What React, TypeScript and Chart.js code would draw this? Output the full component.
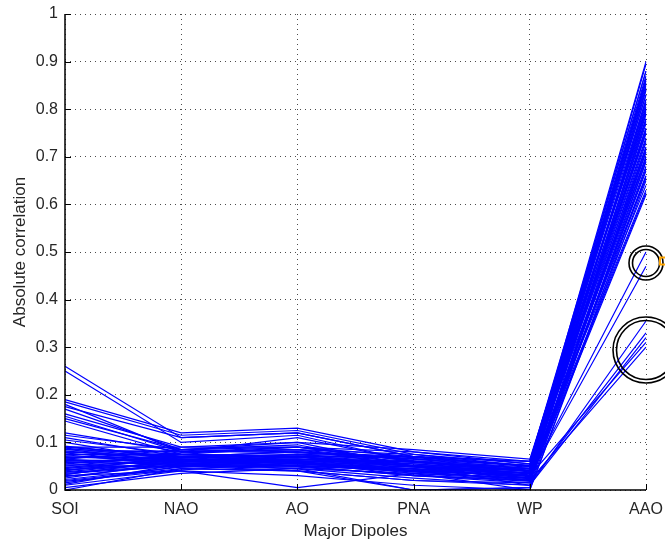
import React, { useEffect, useRef } from "react";
import { Chart, registerables } from "chart.js";

Chart.register(...registerables);

const categories = ["SOI", "NAO", "AO", "PNA", "WP", "AAO"];
const yTickStep = 0.1;

// one entry per series (line), one array per dipole axis
const soi = [0.26, 0.25, 0.19, 0.185, 0.18, 0.175, 0.17, 0.16, 0.155, 0.15, 0.145, 0.12, 0.115, 0.11, 0.105, 0.1, 0.09, 0.088, 0.085, 0.082, 0.08, 0.078, 0.075, 0.072, 0.07, 0.068, 0.065, 0.062, 0.06, 0.058, 0.055, 0.052, 0.05, 0.048, 0.045, 0.042, 0.04, 0.038, 0.035, 0.032, 0.03, 0.028, 0.025, 0.02, 0.015, 0.01, 0.005, 0.0, 0.065, 0.09, 0.092, 0.086, 0.079, 0.074, 0.067, 0.063, 0.057, 0.053, 0.047, 0.043, 0.037, 0.033, 0.022, 0.018, 0.012];
const nao = [0.11, 0.1, 0.12, 0.115, 0.08, 0.11, 0.085, 0.09, 0.08, 0.085, 0.075, 0.08, 0.085, 0.07, 0.075, 0.06, 0.07, 0.065, 0.08, 0.06, 0.07, 0.055, 0.075, 0.065, 0.06, 0.07, 0.05, 0.06, 0.065, 0.055, 0.07, 0.06, 0.075, 0.05, 0.065, 0.055, 0.07, 0.06, 0.05, 0.065, 0.04, 0.055, 0.06, 0.045, 0.05, 0.04, 0.035, 0.045, 0.085, 0.09, 0.068, 0.058, 0.082, 0.052, 0.078, 0.062, 0.072, 0.048, 0.068, 0.058, 0.052, 0.062, 0.048, 0.042, 0.055];
const ao = [0.12, 0.115, 0.13, 0.125, 0.11, 0.12, 0.1, 0.09, 0.085, 0.08, 0.07, 0.09, 0.095, 0.08, 0.07, 0.075, 0.065, 0.06, 0.085, 0.05, 0.07, 0.06, 0.09, 0.055, 0.065, 0.075, 0.045, 0.07, 0.055, 0.06, 0.08, 0.05, 0.07, 0.04, 0.065, 0.05, 0.06, 0.075, 0.055, 0.06, 0.005, 0.045, 0.065, 0.04, 0.05, 0.03, 0.045, 0.04, 0.09, 0.1, 0.072, 0.062, 0.078, 0.058, 0.085, 0.052, 0.068, 0.062, 0.058, 0.072, 0.048, 0.056, 0.052, 0.058, 0.062];
const pna = [0.07, 0.06, 0.08, 0.075, 0.06, 0.07, 0.05, 0.06, 0.05, 0.07, 0.04, 0.06, 0.05, 0.065, 0.05, 0.07, 0.06, 0.04, 0.075, 0.03, 0.05, 0.06, 0.08, 0.04, 0.05, 0.06, 0.035, 0.07, 0.045, 0.03, 0.065, 0.04, 0.055, 0.02, 0.05, 0.045, 0.06, 0.05, 0.04, 0.035, 0.035, 0.025, 0.055, 0.0, 0.03, 0.01, 0.0, 0.02, 0.07, 0.085, 0.058, 0.048, 0.068, 0.038, 0.062, 0.042, 0.058, 0.052, 0.044, 0.066, 0.032, 0.048, 0.038, 0.052, 0.044];
const wp = [0.05, 0.045, 0.06, 0.055, 0.04, 0.05, 0.03, 0.04, 0.035, 0.05, 0.03, 0.04, 0.03, 0.05, 0.04, 0.06, 0.04, 0.02, 0.05, 0.02, 0.035, 0.045, 0.055, 0.03, 0.01, 0.04, 0.02, 0.05, 0.025, 0.015, 0.045, 0.03, 0.035, 0.01, 0.04, 0.03, 0.045, 0.02, 0.03, 0.025, 0.0, 0.01, 0.04, 0.005, 0.02, 0.0, 0.005, 0.015, 0.06, 0.065, 0.042, 0.032, 0.052, 0.022, 0.048, 0.028, 0.038, 0.036, 0.026, 0.052, 0.018, 0.034, 0.024, 0.044, 0.036];
const aao = [0.88, 0.84, 0.86, 0.8, 0.75, 0.72, 0.7, 0.78, 0.66, 0.82, 0.5, 0.76, 0.69, 0.9, 0.64, 0.85, 0.81, 0.73, 0.87, 0.62, 0.77, 0.83, 0.79, 0.47, 0.355, 0.74, 0.68, 0.86, 0.71, 0.33, 0.8, 0.67, 0.75, 0.32, 0.84, 0.63, 0.78, 0.72, 0.31, 0.7, 0.65, 0.82, 0.76, 0.69, 0.3, 0.66, 0.79, 0.71, 0.88, 0.83, 0.895, 0.865, 0.845, 0.815, 0.795, 0.775, 0.755, 0.735, 0.715, 0.695, 0.675, 0.655, 0.625, 0.855, 0.805];

// highlighted regions on the AAO axis
const circleValues = [0.477, 0.294];
const circleRadii = [17, 33];
const markerValue = 0.48;

const FONT = "'Liberation Sans', Arial, Helvetica, sans-serif";
const TEXT = "#262626";

export default function App() {
  const ref = useRef<HTMLCanvasElement | null>(null);

  useEffect(() => {
    document.body.style.margin = "0";
    const canvas = ref.current;
    if (!canvas) return;

    const datasets = soi.map((_, i) => ({
      data: [soi[i], nao[i], ao[i], pna[i], wp[i], aao[i]],
      borderColor: "#0000ff",
      borderWidth: 1.2,
      pointRadius: 0,
      fill: false,
      tension: 0,
    }));

    const axesPlugin = {
      id: "matlabAxes",
      afterDatasetsDraw(chart: any) {
        const { ctx, chartArea, scales } = chart;
        const xs = scales.x;
        const ys = scales.y;
        ctx.save();
        ctx.strokeStyle = "#000";
        ctx.lineWidth = 1.5;
        ctx.beginPath();
        ctx.moveTo(chartArea.left, chartArea.top);
        ctx.lineTo(chartArea.left, chartArea.bottom);
        ctx.lineTo(chartArea.right, chartArea.bottom);
        ctx.stroke();
        ctx.lineWidth = 1;
        ctx.beginPath();
        for (let v = 0; v <= 1.0001; v += yTickStep) {
          const y = Math.round(ys.getPixelForValue(v)) + 0.5;
          ctx.moveTo(chartArea.left, y);
          ctx.lineTo(chartArea.left + 6, y);
        }
        categories.forEach((_, i) => {
          const x = Math.round(xs.getPixelForValue(i)) + 0.5;
          ctx.moveTo(x, chartArea.bottom);
          ctx.lineTo(x, chartArea.bottom - 6);
        });
        ctx.stroke();
        ctx.restore();
      },
      afterDraw(chart: any) {
        const { ctx, scales } = chart;
        const xs = scales.x;
        const ys = scales.y;
        const cx = xs.getPixelForValue(categories.length - 1);
        ctx.save();
        ctx.strokeStyle = "#000";
        ctx.lineWidth = 1.6;
        circleValues.forEach((v, i) => {
          const cy = ys.getPixelForValue(v);
          const r = circleRadii[i];
          ctx.beginPath();
          ctx.arc(cx, cy, r, 0, Math.PI * 2);
          ctx.stroke();
          ctx.beginPath();
          ctx.arc(cx, cy, r - 3.5, 0, Math.PI * 2);
          ctx.stroke();
        });
        const my = ys.getPixelForValue(markerValue);
        ctx.strokeStyle = "#ffa500";
        ctx.lineWidth = 2;
        ctx.strokeRect(cx + 14, my - 4, 8, 7);
        ctx.restore();
      },
    };

    const chart = new Chart(canvas, {
      type: "line",
      data: { labels: categories, datasets },
      options: {
        animation: false,
        responsive: false,
        maintainAspectRatio: false,
        layout: { padding: { top: 14, right: 19, left: 0, bottom: 0 } },
        plugins: { legend: { display: false }, tooltip: { enabled: false } },
        scales: {
          x: {
            type: "category",
            offset: false,
            grid: { color: "rgba(0,0,0,0.7)", lineWidth: 1, drawTicks: false },
            border: { display: false, dash: [1, 4] },
            ticks: {
              padding: 10,
              autoSkip: false,
              maxRotation: 0,
              color: TEXT,
              font: { family: FONT, size: 16 },
            },
            title: {
              display: true,
              text: "Major Dipoles",
              color: TEXT,
              font: { family: FONT, size: 17 },
              padding: { top: 0, bottom: 3 },
            },
            afterFit: (s: any) => {
              s.height = 55;
              s.paddingLeft = 0;
              s.paddingRight = 0;
            },
          },
          y: {
            min: 0,
            max: 1,
            grid: { color: "rgba(0,0,0,0.7)", lineWidth: 1, drawTicks: false },
            border: { display: false, dash: [1, 4] },
            ticks: {
              stepSize: yTickStep,
              padding: 7,
              color: TEXT,
              font: { family: FONT, size: 16 },
              callback: (v: any) => String(Number(Number(v).toFixed(1))),
            },
            title: {
              display: true,
              text: "Absolute correlation",
              color: TEXT,
              font: { family: FONT, size: 17 },
              padding: { top: 10, bottom: 0 },
            },
            afterFit: (s: any) => {
              s.width = 65;
              s.paddingTop = 0;
              s.paddingBottom = 0;
            },
          },
        },
      },
      plugins: [axesPlugin],
    });

    return () => chart.destroy();
  }, []);

  return (
    <div style={{ width: 665, height: 545 }}>
      <canvas ref={ref} width={665} height={545} style={{ display: "block" }} />
    </div>
  );
}
